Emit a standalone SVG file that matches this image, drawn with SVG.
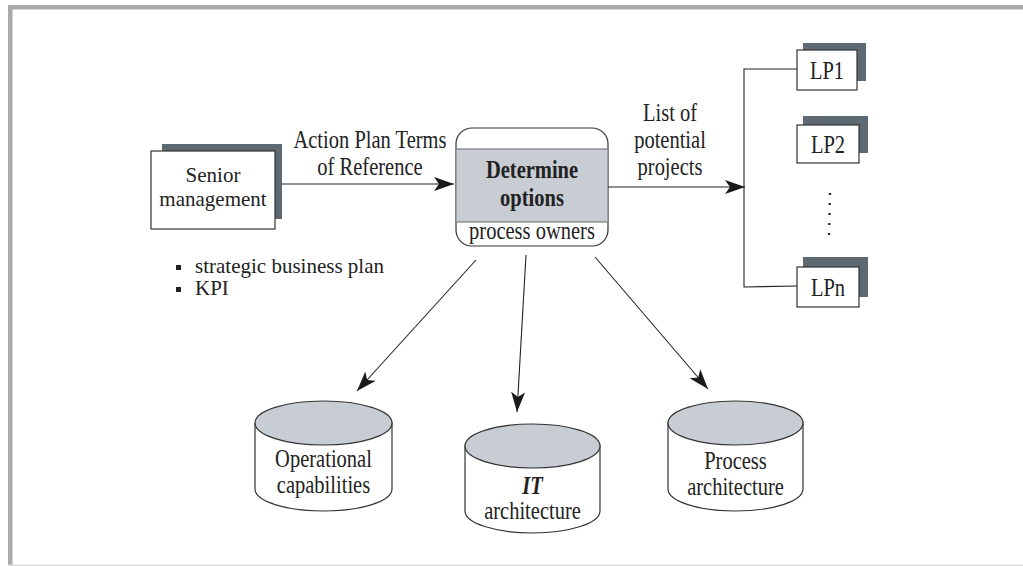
<svg xmlns="http://www.w3.org/2000/svg" width="1023" height="566" viewBox="0 0 1023 566">
<style>
text{font-family:"Liberation Serif","Times New Roman",serif;fill:#222;font-size:25px}
.c{text-anchor:middle}
.box{fill:#fff;stroke:#333;stroke-width:1.2}
.sh{fill:#5e6a73}
.ln{stroke:#222;stroke-width:1.1;fill:none}
.cyl{fill:#fff;stroke:#333;stroke-width:1.2}
.top{fill:#c8ccd3;stroke:#333;stroke-width:1.2}
.s21{font-size:21px}
</style>
<defs>
<marker id="ah" viewBox="0 0 20 14" refX="20" refY="7" markerWidth="20" markerHeight="14" markerUnits="userSpaceOnUse" orient="auto">
<path d="M0,0 L20,7 L0,14 L5,7 Z" fill="#1a1a1a"/>
</marker>
</defs>
<rect x="0" y="0" width="1023" height="566" fill="#fff"/>
<g id="frame">
<rect x="8" y="5" width="1015" height="4.5" fill="#aaa"/>
<rect x="8" y="5" width="4.5" height="561" fill="#aaa"/>
<rect x="8" y="564.5" width="1015" height="1.5" fill="#ddd"/>
</g>
<g id="connectors">
<line class="ln" x1="275" y1="184" x2="454" y2="184" marker-end="url(#ah)"/>
<line class="ln" x1="608" y1="187" x2="745" y2="187" marker-end="url(#ah)"/>
<polyline class="ln" points="797,69 744,69 744,287 797,286" stroke="#555"/>
<line class="ln" x1="476" y1="260" x2="357" y2="391" marker-end="url(#ah)"/>
<line class="ln" x1="526" y1="255" x2="517" y2="412" marker-end="url(#ah)"/>
<line class="ln" x1="595" y1="257" x2="708" y2="389" marker-end="url(#ah)"/>
<line x1="830" y1="193" x2="829" y2="236" stroke="#222" stroke-width="2.2" stroke-dasharray="2 8"/>
<text class="c" transform="translate(370,148) scale(0.82,1)">Action Plan Terms</text>
<text class="c" transform="translate(370,175) scale(0.82,1)">of Reference</text>
<text class="c" transform="translate(670,121) scale(0.82,1)">List of</text>
<text class="c" transform="translate(670,148) scale(0.82,1)">potential</text>
<text class="c" transform="translate(670,175) scale(0.82,1)">projects</text>
</g>
<g id="senior">
<rect class="sh" x="162" y="144" width="120" height="75"/>
<rect class="box" x="151" y="151" width="124" height="78"/>
<text class="c s21" x="213" y="182">Senior</text>
<text class="c s21" x="213" y="206">management</text>
</g>
<g id="notes">
<rect x="176" y="265" width="5" height="5" fill="#222"/>
<rect x="176" y="287" width="5" height="5" fill="#222"/>
<text class="s21" x="195" y="273">strategic business plan</text>
<text class="s21" x="195" y="295">KPI</text>
</g>
<g id="determine">
<rect x="456" y="128" width="152" height="118" rx="16" fill="#fff" stroke="#333" stroke-width="1.2"/>
<rect x="456.6" y="149" width="150.8" height="73" fill="#c8ccd3"/>
<line x1="456.6" y1="149" x2="607.4" y2="149" stroke="#666" stroke-width="1.2"/>
<line x1="456.6" y1="222" x2="607.4" y2="222" stroke="#666" stroke-width="1.2"/>
<text class="c" font-weight="bold" transform="translate(532,178) scale(0.82,1)">Determine</text>
<text class="c" font-weight="bold" transform="translate(532,206) scale(0.82,1)">options</text>
<text class="c" font-size="22" transform="translate(532,239) scale(0.82,1)">process owners</text>
</g>
<g id="lp1">
<rect class="sh" x="803" y="43" width="63" height="38"/>
<rect class="box" x="797" y="50" width="60" height="40"/>
<text class="c" font-size="24" transform="translate(827,79) scale(0.82,1)">LP1</text>
</g>
<g id="lp2">
<rect class="sh" x="803" y="116" width="65" height="37"/>
<rect class="box" x="797" y="125" width="62" height="38"/>
<text class="c" font-size="24" transform="translate(828,153) scale(0.82,1)">LP2</text>
</g>
<g id="lpn">
<rect class="sh" x="803" y="257" width="65" height="40"/>
<rect class="box" x="797" y="267" width="62" height="40"/>
<text class="c" font-size="24" transform="translate(828,296) scale(0.82,1)">LPn</text>
</g>
<g id="operational">
<path class="cyl" d="M255,423 L255,489 A68.5,22 0 0 0 392,489 L392,423 Z"/>
<ellipse class="top" cx="323.5" cy="423" rx="68.5" ry="22"/>
<text class="c" transform="translate(323.5,467) scale(0.82,1)">Operational</text>
<text class="c" transform="translate(323.5,493) scale(0.82,1)">capabilities</text>
</g>
<g id="it">
<path class="cyl" d="M465,446 L465,511 A67.5,22 0 0 0 600,511 L600,446 Z"/>
<ellipse class="top" cx="532.5" cy="446" rx="67.5" ry="22"/>
<text class="c" font-weight="bold" font-style="italic" transform="translate(532.5,494) scale(0.82,1)">IT</text>
<text class="c" transform="translate(532.5,519) scale(0.82,1)">architecture</text>
</g>
<g id="process">
<path class="cyl" d="M668,423 L668,489 A67.5,22 0 0 0 803,489 L803,423 Z"/>
<ellipse class="top" cx="735.5" cy="423" rx="67.5" ry="22"/>
<text class="c" transform="translate(735.5,469) scale(0.82,1)">Process</text>
<text class="c" transform="translate(735.5,495) scale(0.82,1)">architecture</text>
</g>
</svg>
